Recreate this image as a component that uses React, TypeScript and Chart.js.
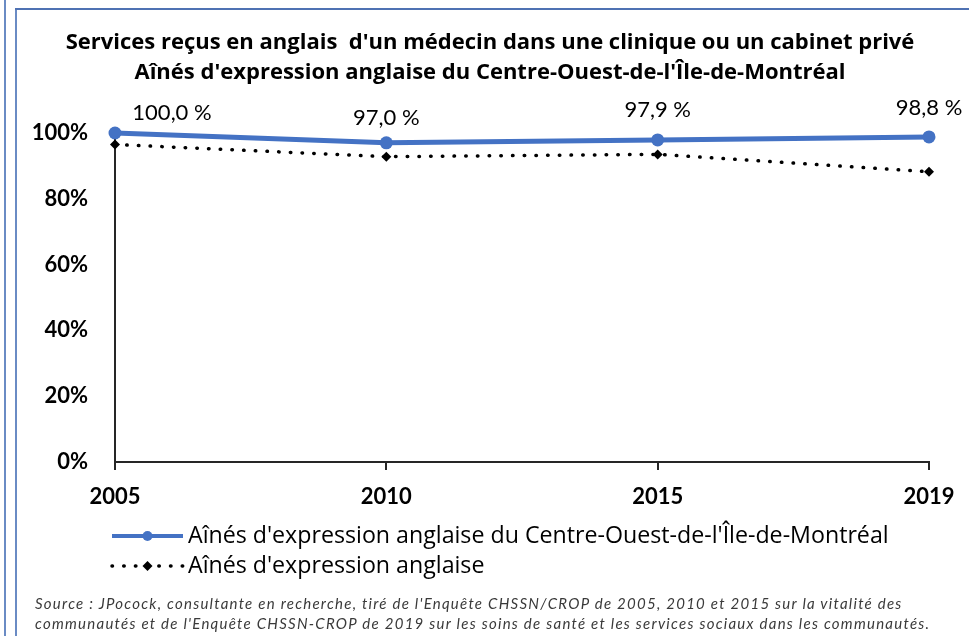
import React, { useEffect, useRef } from "react";
import { Chart, registerables } from "chart.js";

Chart.register(...registerables);

const categories = ["2005", "2010", "2015", "2019"];
const westMontrealSeniors = [100.0, 97.0, 97.9, 98.8];
const allEnglishSeniors = [96.5, 92.8, 93.5, 88.2];
const seriesNames = [
  "Aînés d'expression anglaise du Centre-Ouest-de-l'Île-de-Montréal",
  "Aînés d'expression anglaise",
];
const titleLines = [
  "Services reçus en anglais  d'un médecin dans une clinique ou un cabinet privé",
  "Aînés d'expression anglaise du Centre-Ouest-de-l'Île-de-Montréal",
];
const sourceLines = [
  "Source : JPocock, consultante en recherche, tiré de l'Enquête CHSSN/CROP de 2005, 2010 et 2015 sur la vitalité des",
  "communautés et de l'Enquête CHSSN-CROP de 2019 sur les soins de santé et les services sociaux dans les communautés.",
];

const FONT = "Lato, 'Open Sans', sans-serif";
const FONT_WIDE = "'Open Sans', Lato, sans-serif";
const BLUE = "#4472C4";

const titlePlugin = {
  id: "centeredTitle",
  beforeDraw(chart: any) {
    const ctx = chart.ctx;
    ctx.save();
    ctx.font = `700 22px ${FONT_WIDE}`;
    ctx.fillStyle = "#000";
    ctx.textAlign = "center";
    ctx.textBaseline = "middle";
    titleLines.forEach((line, i) => {
      ctx.fillText(line, 490, 43 + i * 30);
    });
    ctx.restore();
  },
};

const labelPlugin = {
  id: "valueLabels",
  afterDatasetsDraw(chart: any) {
    const ctx = chart.ctx;
    const meta = chart.getDatasetMeta(0);
    const data = chart.data.datasets[0].data as number[];
    const rise = [20, 25, 30, 29];
    ctx.save();
    ctx.font = `400 22px ${FONT}`;
    ctx.fillStyle = "#000";
    ctx.textAlign = "center";
    ctx.textBaseline = "middle";
    meta.data.forEach((el: any, i: number) => {
      const txt = data[i].toFixed(1).replace(".", ",") + " %";
      const dx = i === 0 ? 57 : 0;
      ctx.fillText(txt, el.x + dx, el.y - rise[i]);
    });
    ctx.restore();
  },
};

const legendPlugin = {
  id: "customLegend",
  afterDraw(chart: any) {
    const ctx = chart.ctx;
    const left = chart.chartArea.left - 3;
    chart.data.datasets.forEach((ds: any, i: number) => {
      const y = 536 + i * 30;
      const x0 = left;
      const x1 = left + 71;
      const xm = (x0 + x1) / 2;
      ctx.save();
      ctx.strokeStyle = ds.borderColor;
      ctx.lineWidth = i === 0 ? 4 : 3.5;
      ctx.lineCap = ds.borderCapStyle || "butt";
      ctx.setLineDash(ds.borderDash || []);
      ctx.beginPath();
      ctx.moveTo(x0, y);
      ctx.lineTo(x1, y);
      ctx.stroke();
      ctx.setLineDash([]);
      ctx.fillStyle = ds.pointBackgroundColor;
      ctx.beginPath();
      if (i === 0) {
        ctx.arc(xm, y, 5, 0, Math.PI * 2);
      } else {
        ctx.moveTo(xm, y - 5);
        ctx.lineTo(xm + 5, y);
        ctx.lineTo(xm, y + 5);
        ctx.lineTo(xm - 5, y);
        ctx.closePath();
      }
      ctx.fill();
      ctx.font = `400 23.2px ${FONT_WIDE}`;
      ctx.fillStyle = "#000";
      ctx.textAlign = "left";
      ctx.textBaseline = "middle";
      ctx.fillText(seriesNames[i], x1 + 5, y);
      ctx.restore();
    });
  },
};

export default function App() {
  const canvasRef = useRef<HTMLCanvasElement | null>(null);

  useEffect(() => {
    document.body.style.margin = "0";
    const canvas = canvasRef.current;
    if (!canvas) return;
    const chart = new Chart(canvas, {
      type: "line",
      data: {
        labels: categories,
        datasets: [
          {
            label: seriesNames[0],
            data: westMontrealSeniors,
            borderColor: BLUE,
            backgroundColor: BLUE,
            pointBackgroundColor: BLUE,
            pointBorderColor: BLUE,
            borderWidth: 5,
            pointRadius: 6.5,
            pointBorderWidth: 0,
            pointStyle: "circle",
            tension: 0,
            clip: false as any,
          },
          {
            label: seriesNames[1],
            data: allEnglishSeniors,
            borderColor: "#000",
            backgroundColor: "#000",
            pointBackgroundColor: "#000",
            pointBorderColor: "#000",
            borderWidth: 3.5,
            borderDash: [0.5, 11.2],
            borderCapStyle: "round",
            pointRadius: 5,
            pointBorderWidth: 0,
            pointStyle: "rectRot",
            tension: 0,
            clip: false as any,
          },
        ],
      },
      options: {
        animation: false,
        responsive: false,
        maintainAspectRatio: false,
        layout: { padding: { left: 15, right: 40, top: 133, bottom: 124 } },
        plugins: {
          legend: { display: false },
          tooltip: { enabled: false },
          title: { display: false },
        },
        scales: {
          x: {
            type: "category",
            offset: false,
            afterFit: (s: any) => {
              s.height = 50;
            },
            grid: {
              display: true,
              drawOnChartArea: false,
              drawTicks: true,
              tickLength: 8,
              color: "#262626",
              lineWidth: 2,
            },
            border: { display: true, color: "#262626", width: 2 },
            ticks: {
              color: "#000",
              font: { family: FONT, size: 22, weight: "bold" },
              padding: 14,
              maxRotation: 0,
            },
          },
          y: {
            min: 0,
            max: 100,
            afterFit: (s: any) => {
              s.width = 100;
            },
            grid: { display: false, drawTicks: false },
            border: { display: true, color: "#262626", width: 2 },
            ticks: {
              stepSize: 20,
              color: "#000",
              font: { family: FONT, size: 22, weight: "bold" },
              padding: 27,
              callback: (v: any) => `${v}%`,
            },
          },
        },
      },
      plugins: [titlePlugin, labelPlugin, legendPlugin],
    });
    return () => chart.destroy();
  }, []);

  return (
    <div style={{ position: "relative", width: 969, height: 636, overflow: "hidden", background: "#fff" }}>
      <div style={{ position: "absolute", left: 4, top: 0, width: 2, height: 636, background: "#6a8bc4" }} />
      <div style={{ position: "absolute", left: 15, top: 8, width: 2, height: 628, background: "#6a8bc4" }} />
      <div style={{ position: "absolute", left: 15, top: 8, width: 954, height: 2, background: "#4f72b3" }} />
      <canvas ref={canvasRef} width={969} height={636} style={{ position: "absolute", left: 0, top: 0, display: "block" }} />
      <div
        style={{
          position: "absolute",
          left: 35,
          top: 593,
          fontFamily: FONT,
          fontStyle: "italic",
          fontSize: 15,
          letterSpacing: "1.25px",
          lineHeight: "20px",
          color: "#3a3a3a",
          whiteSpace: "nowrap",
        }}
      >
        <div>{sourceLines[0]}</div>
        <div>{sourceLines[1]}</div>
      </div>
    </div>
  );
}
